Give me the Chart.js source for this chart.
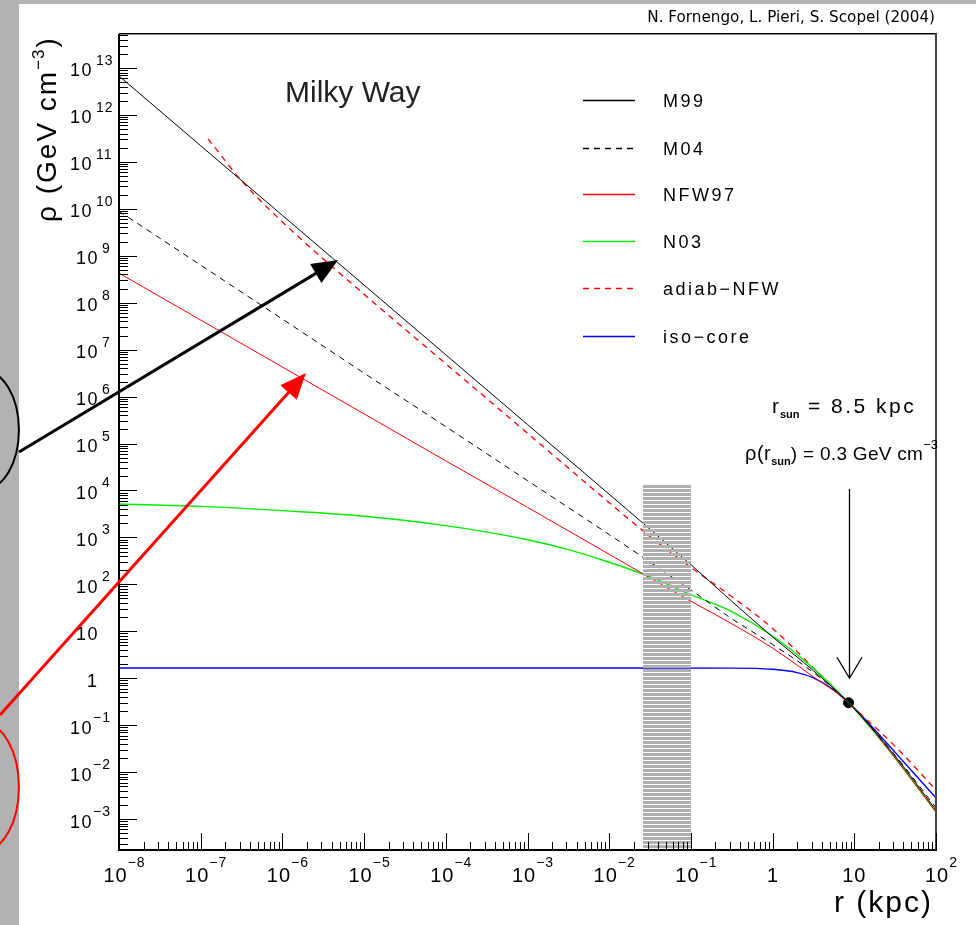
<!DOCTYPE html>
<html><head><meta charset="utf-8">
<script src="https://cdn.jsdelivr.net/npm/chart.js@4.4.1/dist/chart.umd.min.js"></script>
<style>html,body{margin:0;padding:0;background:#b2b2b2;overflow:hidden}canvas{display:block}</style>
</head><body><canvas id="c" width="976" height="925"></canvas>
<script>
// ---------- data (r in kpc, rho in GeV cm^-3) ----------
const rM99   = [1e-8,1e-7,1e-6,1e-5,1e-4,1e-3,1e-2,1e-1,0.316,1,3.16,8.5,31.6,100];
const rhoM99 = [6.76e12,2.21e11,7.24e9,2.37e8,7.76e6,2.54e5,8.32e3,263,43.6,7.59,1.45,0.302,0.0219,1.55e-3];
const rM04   = [1e-8,1e-7,1e-6,1e-5,1e-4,1e-3,1e-2,1e-1,0.316,1,3.16,8.5,31.6,100];
const rhoM04 = [8.91e9,6.31e8,4.47e7,3.16e6,2.29e5,1.62e4,1148,75.9,18.6,5.25,1.32,0.302,0.0229,1.74e-3];
const rNFW97   = [1e-8,1e-7,1e-6,1e-5,1e-4,1e-3,1e-2,1e-1,0.316,1,3.16,8.5,31.6,100];
const rhoNFW97 = [4.27e8,4.27e7,4.27e6,4.27e5,4.27e4,4365,437,43.7,14.5,4.37,1.07,0.302,0.0200,1.41e-3];
const rN03   = [1e-8,1e-7,1e-6,1e-5,1e-4,1e-3,3.16e-3,1e-2,3.16e-2,1e-1,0.316,1,3.16,8.5,31.6,100];
const rhoN03 = [5129,4571,3715,2818,1778,891,550,295,145,60.3,26.3,7.94,1.62,0.302,0.0200,1.41e-3];
const rAdiab   = [1.23e-7,3.16e-7,1e-6,1e-5,1e-4,1e-3,1e-2,3.16e-2,0.1,0.316,1,3.16,8.5,31.6,100];
const rhoAdiab = [3.09e11,3.98e10,5.25e9,1.51e8,5.01e6,1.66e5,5495,1047,229,55.0,11.5,1.66,0.302,0.0355,4.17e-3];
const rIso   = [1e-8,1e-2,0.316,1,2,3.16,5,8.5,15.8,31.6,100];
const rhoIso = [1.65,1.65,1.64,1.55,1.32,1.02,0.646,0.302,0.100,0.0263,2.82e-3];
const sunR = [8.5];
const sunRho = [0.3];
const seriesLabels = ['M99','M04','NFW97','N03','adiab\u2212NFW','iso\u2212core'];
const seriesColors = ['#000000','#000000','#ff0000','#00ee00','#ff0000','#0000ff'];
const xTickExps = [-8,-7,-6,-5,-4,-3,-2,-1,0,1,2];
const yTickExps = [-3,-2,-1,0,1,2,3,4,5,6,7,8,9,10,11,12,13];
const xRange = [1e-8, 100];
const yRange = [2.19e-4, 5.30e13];
const bandR = [0.026, 0.1];
const bandTopRho = 1.3e4;
const sunArrowRho = [1.07e4, 1.0];
// annotation anchors (data coordinates; tails lie outside the frame)
const arrowBlack = [[5.97e-10, 6.6e4],[4.8e-6, 8.1e8]];
const arrowRed   = [[3.49e-10, 0.164],[1.94e-6, 3.16e6]];
const ellipseBlack = [2.16e-10, 1.94e5];
const ellipseRed   = [2.16e-10, 4.82e-3];

const FONT = '"Liberation Sans", Arial, Helvetica, sans-serif';
function pts(rs, ys){ return rs.map((r,i)=>({x:r, y:ys[i]})); }
function line(label, rs, ys, color, dash, w){
  return {label, data:pts(rs,ys), borderColor:color, backgroundColor:color, borderWidth:w,
    borderDash:dash, pointRadius:0, fill:false, tension:0, cubicInterpolationMode:'monotone'};
}
const datasets = [
  line(seriesLabels[0], rM99, rhoM99, seriesColors[0], [], 1),
  line(seriesLabels[1], rM04, rhoM04, seriesColors[1], [6,5], 1),
  line(seriesLabels[2], rNFW97, rhoNFW97, seriesColors[2], [], 1),
  line(seriesLabels[3], rN03, rhoN03, seriesColors[3], [], 1.4),
  line(seriesLabels[4], rAdiab, rhoAdiab, seriesColors[4], [6,5], 1.3),
  line(seriesLabels[5], rIso, rhoIso, seriesColors[5], [], 1.4),
  {label:'sun', data:pts(sunR, sunRho), showLine:false, pointRadius:5, pointBackgroundColor:'#000', pointBorderColor:'#000', borderColor:'#000'}
];
const dashes = [[],[6,5],[],[],[6,5],[]];

function txt(c, s, x, y, size, opts={}){
  c.font = (opts.bold?'bold ':'') + size + 'px ' + (opts.family||FONT);
  c.letterSpacing = (opts.sp||0) + 'px';
  c.textAlign = opts.align || 'left';
  c.textBaseline = 'alphabetic';
  c.fillStyle = opts.color || '#000';
  c.fillText(s, x, y);
  return c.measureText(s).width;
}
function rich(c, x, y, segs){
  let cx = x;
  for (const s of segs){ cx += txt(c, s.t, cx, y + (s.dy||0), s.s, {sp:s.sp||0, bold:s.bold}); }
  return cx;
}
function arrowHead(c, x0,y0,x1,y1,len,half){
  const a = Math.atan2(y1-y0, x1-x0);
  c.beginPath();
  c.moveTo(x1,y1);
  c.lineTo(x1 - len*Math.cos(a) + half*Math.sin(a), y1 - len*Math.sin(a) - half*Math.cos(a));
  c.lineTo(x1 - len*Math.cos(a) - half*Math.sin(a), y1 - len*Math.sin(a) + half*Math.cos(a));
  c.closePath(); c.fill();
}

const decor = {
  id:'decor',
  beforeDraw(chart){
    const c = chart.ctx; c.save();
    c.fillStyle = '#b2b2b2'; c.fillRect(0,0,chart.width,chart.height);
    c.fillStyle = '#ffffff'; c.fillRect(19,4,chart.width-19,chart.height-4);
    c.restore();
  },
  afterDatasetsDraw(chart){
    const c = chart.ctx, xs = chart.scales.x, ys = chart.scales.y, a = chart.chartArea;
    c.save();
    const bx0 = Math.round(xs.getPixelForValue(bandR[0])), bx1 = Math.round(xs.getPixelForValue(bandR[1]));
    const by0 = Math.round(ys.getPixelForValue(bandTopRho));
    c.fillStyle = '#b0b0b0';
    for (let yy = by0; yy < a.bottom - 1; yy += 4) c.fillRect(bx0, yy, bx1-bx0, 3);
    c.restore();
  },
  afterDraw(chart){
    const c = chart.ctx, xs = chart.scales.x, ys = chart.scales.y, a = chart.chartArea;
    const L = Math.round(a.left), R = Math.round(a.right), T = Math.round(a.top), B = Math.round(a.bottom);
    c.save();
    // frame
    c.fillStyle = '#000';
    c.fillRect(L-1, T, 2, B-T+1);
    c.fillRect(L-1, B-1, R-L+2, 2);
    c.fillRect(L, T-1, R-L, 1.5);
    c.fillStyle = '#444';
    c.fillRect(R-1, T-1, 2, B-T+1);
    // y ticks
    c.strokeStyle = '#000'; c.lineWidth = 1;
    c.beginPath();
    for (let e = -4; e <= 13; e++){
      for (let m = 1; m <= 9; m++){
        const v = m * Math.pow(10, e);
        if (v < yRange[0] || v > yRange[1]) continue;
        const py = Math.round(ys.getPixelForValue(v)) + 0.5;
        c.moveTo(L, py); c.lineTo(L + (m === 1 ? 18 : 9), py);
      }
    }
    // x ticks
    for (let e = -8; e <= 2; e++){
      for (let m = 1; m <= 9; m++){
        const v = m * Math.pow(10, e);
        if (v < xRange[0] || v > xRange[1]) continue;
        const px = Math.round(xs.getPixelForValue(v)) + 0.5;
        c.moveTo(px, B); c.lineTo(px, B - (m === 1 ? 17 : 8));
      }
    }
    c.stroke();
    // y labels
    for (const e of yTickExps){
      const ty = ys.getPixelForValue(Math.pow(10, e));
      if (e === 0){ txt(c, '1', 97, ty+8.5, 18, {align:'right'}); continue; }
      if (e === 1){ txt(c, '10', 99, ty+8.5, 18, {align:'right', sp:1.5}); continue; }
      const xr = (e >= 10 || e < 0) ? 93 : 99;
      txt(c, '10', xr, ty+8.5, 18, {align:'right', sp:1.5});
      const es = e < 0 ? '\u2212' + (-e) : String(e);
      txt(c, es, xr + (e < 0 ? 0 : 3), ty-3, 14, {sp:1});
    }
    // x labels
    for (const e of xTickExps){
      const tx = xs.getPixelForValue(Math.pow(10, e));
      if (e === 0){ txt(c, '1', tx, 882, 20, {align:'center'}); continue; }
      if (e === 1){ txt(c, '10', tx, 882, 20, {align:'center', sp:1}); continue; }
      const es = e < 0 ? '\u2212' + (-e) : String(e);
      c.font = '20px ' + FONT; c.letterSpacing = '1px';
      const w1 = c.measureText('10').width;
      c.font = '14px ' + FONT;
      const w2 = c.measureText(es).width;
      const x0 = tx + 5.5 - (w1 + w2)/2;
      txt(c, '10', x0, 882, 20, {sp:1});
      txt(c, es, x0 + w1, 867, 14, {sp:1});
    }
    // axis titles
    txt(c, 'r (kpc)', 933, 912, 30, {align:'right', sp:2});
    c.save();
    c.translate(56, 222); c.rotate(-Math.PI/2);
    const wt = txt(c, '\u03c1 (GeV cm', 0, 0, 28, {sp:2});
    const w3 = txt(c, '\u22123', wt, -12, 17, {sp:1});
    txt(c, ')', wt + w3 + 1, 0, 28, {});
    c.restore();
    // Milky Way
    txt(c, 'Milky Way', 285, 102, 30, {color:'#222'});
    // legend
    const ly = [100, 148, 194, 241, 288, 336];
    for (let i = 0; i < 6; i++){
      c.strokeStyle = seriesColors[i]; c.lineWidth = 1.3; c.setLineDash(dashes[i]);
      c.beginPath(); c.moveTo(583, ly[i]+0.5); c.lineTo(635, ly[i]+0.5); c.stroke();
      c.setLineDash([]);
      txt(c, seriesLabels[i], 663, ly[i]+7, 18, {sp:2.5});
    }
    // credit
    c.font = '13px "DejaVu Sans", sans-serif'; c.letterSpacing = '0px';
    const cw = c.measureText('N. Fornengo, L. Pieri, S. Scopel (2004)').width;
    const cs = 13 * 288 / cw;
    txt(c, 'N. Fornengo, L. Pieri, S. Scopel (2004)', 935, 22, cs, {align:'right', family:'"DejaVu Sans", sans-serif'});
    // r_sun texts
    rich(c, 772, 413, [{t:'r', s:21, sp:1},{t:'sun', s:11, dy:5, bold:true},{t:' = 8.5 kpc', s:21, sp:2.5}]);
    rich(c, 745, 460, [{t:'\u03c1(r', s:20, sp:0.5},{t:'sun', s:11, dy:5, bold:true},{t:') = 0.3 GeV cm', s:19, sp:0.3},{t:'\u22123', s:13, dy:-11}]);
    // sun arrow
    const sx = Math.round(xs.getPixelForValue(sunR[0])) + 0.5;
    const sy0 = ys.getPixelForValue(sunArrowRho[0]), sy1 = ys.getPixelForValue(sunArrowRho[1]);
    c.strokeStyle = '#000'; c.lineWidth = 1.3;
    c.beginPath(); c.moveTo(sx, sy0); c.lineTo(sx, sy1);
    c.moveTo(sx-12.5, sy1-21); c.lineTo(sx, sy1); c.lineTo(sx+12.5, sy1-21); c.stroke();
    // annotation arrows and ellipses
    function P(p){ return [xs.getPixelForValue(p[0]), ys.getPixelForValue(p[1])]; }
    const drawArrow = (ar, color) => {
      const [x0,y0] = P(ar[0]), [x1,y1] = P(ar[1]);
      c.strokeStyle = color; c.fillStyle = color; c.lineWidth = 3;
      const ang = Math.atan2(y1-y0, x1-x0);
      c.beginPath(); c.moveTo(x0,y0); c.lineTo(x1 - 20*Math.cos(ang), y1 - 20*Math.sin(ang)); c.stroke();
      arrowHead(c, x0,y0,x1,y1, 26, 11);
    };
    drawArrow(arrowBlack, '#000');
    drawArrow(arrowRed, '#ff0000');
    c.lineWidth = 2;
    let [ex, ey] = P(ellipseBlack);
    c.strokeStyle = '#000'; c.beginPath(); c.ellipse(ex, ey, 36, 60, 0, 0, Math.PI*2); c.stroke();
    [ex, ey] = P(ellipseRed);
    c.strokeStyle = '#ff0000'; c.beginPath(); c.ellipse(ex, ey, 36, 64, 0, 0, Math.PI*2); c.stroke();
    c.restore();
  }
};

new Chart(document.getElementById('c'), {
  type:'line',
  data:{datasets},
  options:{
    responsive:false, animation:false, devicePixelRatio:1,
    layout:{padding:{left:119, top:34, right:40, bottom:75}},
    scales:{
      x:{type:'logarithmic', min:xRange[0], max:xRange[1], bounds:'data', display:false},
      y:{type:'logarithmic', min:yRange[0], max:yRange[1], bounds:'data', display:false}
    },
    plugins:{legend:{display:false}, tooltip:{enabled:false}},
    events:[]
  },
  plugins:[decor]
});
</script>
</body></html>
